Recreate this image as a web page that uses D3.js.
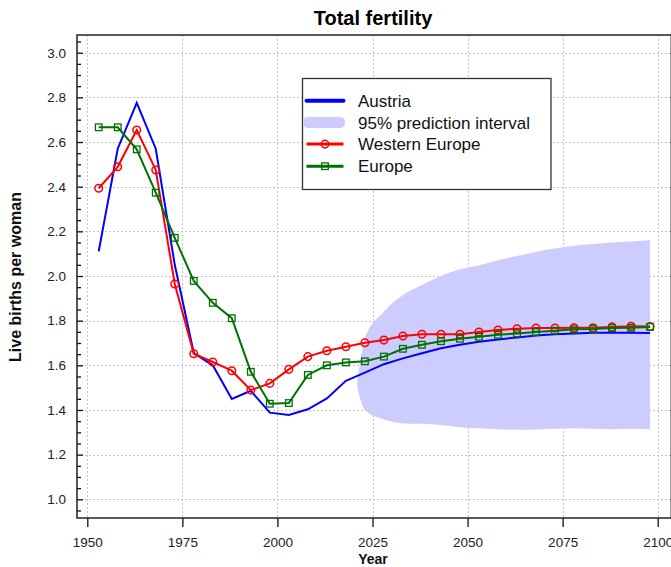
<!DOCTYPE html>
<html>
<head>
<meta charset="utf-8">
<script src="https://cdn.jsdelivr.net/npm/d3@7"></script>
<style>
  html, body { margin: 0; padding: 0; background: #fff; }
  svg { display: block; font-family: "Liberation Sans", Arial, Helvetica, sans-serif; }
</style>
</head>
<body>
<svg id="chart" width="671" height="567"></svg>
<script>
// ---- data ----
const years = [1953, 1958, 1963, 1968, 1973, 1978, 1983, 1988, 1993, 1998,
               2003, 2008, 2013, 2018, 2023, 2028, 2033, 2038, 2043, 2048,
               2053, 2058, 2063, 2068, 2073, 2078, 2083, 2088, 2093, 2098];
const austria = [2.11, 2.57, 2.775, 2.57, 2.05, 1.655, 1.60, 1.449, 1.486, 1.388,
                 1.378, 1.403, 1.452, 1.531, 1.567, 1.605, 1.631, 1.654, 1.676, 1.692,
                 1.706, 1.716, 1.725, 1.733, 1.739, 1.743, 1.746, 1.746, 1.746, 1.745];
const westernEurope = [2.393, 2.489, 2.654, 2.475, 1.964, 1.652, 1.615, 1.576, 1.489, 1.519,
                       1.582, 1.639, 1.665, 1.683, 1.701, 1.713, 1.731, 1.739, 1.739, 1.739,
                       1.749, 1.758, 1.764, 1.767, 1.767, 1.768, 1.768, 1.772, 1.775, 1.774];
const europe = [2.666, 2.666, 2.567, 2.373, 2.171, 1.978, 1.880, 1.811, 1.571, 1.428,
                1.431, 1.557, 1.600, 1.613, 1.618, 1.639, 1.674, 1.692, 1.708, 1.719,
                1.728, 1.737, 1.743, 1.749, 1.755, 1.761, 1.763, 1.767, 1.768, 1.772];
const bandYears = [2021, 2023, 2028, 2033, 2038, 2043, 2048, 2053, 2058, 2063,
                   2068, 2073, 2078, 2083, 2088, 2093, 2098];
const bandUpper = [1.53, 1.72, 1.84, 1.915, 1.96, 2.00, 2.03, 2.047, 2.07, 2.09,
                   2.108, 2.123, 2.136, 2.143, 2.15, 2.155, 2.16];
const bandLower = [1.50, 1.40, 1.358, 1.34, 1.338, 1.333, 1.323, 1.318, 1.314, 1.312,
                   1.313, 1.316, 1.318, 1.316, 1.314, 1.316, 1.314];
const xTicks = [1950, 1975, 2000, 2025, 2050, 2075, 2100];
const yTicks = [1.0, 1.2, 1.4, 1.6, 1.8, 2.0, 2.2, 2.4, 2.6, 2.8, 3.0];
const legendLabels = ["Austria", "95% prediction interval", "Western Europe", "Europe"];
const titleText = "Total fertility";
const xLabel = "Year";
const yLabel = "Live births per woman";

// ---- layout ----
const svg = d3.select("#chart");
const frame = { left: 77, right: 671.3, top: 35, bottom: 518 };
const x = d3.scaleLinear().domain([1950, 2100]).range([87.3, 657.7]);
const y = d3.scaleLinear().domain([1.0, 3.0]).range([499.3, 52.7]);

const colAustria = "#0000ff", colWest = "#ff0000", colEurope = "#007000", colBand = "#ccccff";

// grid
const grid = svg.append("g").attr("stroke", "#c4c4c4").attr("stroke-width", 1)
  .attr("stroke-dasharray", "2,2");
grid.selectAll("line.v").data(xTicks).join("line")
  .attr("x1", d => Math.round(x(d)) + 0.5).attr("x2", d => Math.round(x(d)) + 0.5)
  .attr("y1", frame.top).attr("y2", frame.bottom);
grid.selectAll("line.h").data(yTicks).join("line")
  .attr("y1", d => Math.round(y(d)) + 0.5).attr("y2", d => Math.round(y(d)) + 0.5)
  .attr("x1", frame.left).attr("x2", frame.right);

// prediction band
const bandData = bandYears.map((yr, i) => ({ yr, lo: bandLower[i], hi: bandUpper[i] }));
svg.append("path").datum(bandData)
  .attr("fill", colBand)
  .attr("d", d3.area().curve(d3.curveMonotoneX)
    .x(d => x(d.yr)).y0(d => y(d.lo)).y1(d => y(d.hi)));

// lines
const line = d3.line().x(d => x(d[0])).y(d => y(d[1]));
function series(vals) { return years.map((yr, i) => [yr, vals[i]]); }

svg.append("path").datum(series(austria)).attr("fill", "none")
  .attr("stroke", colAustria).attr("stroke-width", 2).attr("d", line);

svg.append("path").datum(series(westernEurope)).attr("fill", "none")
  .attr("stroke", colWest).attr("stroke-width", 2).attr("d", line);
svg.append("g").selectAll("circle").data(series(westernEurope)).join("circle")
  .attr("cx", d => x(d[0])).attr("cy", d => y(d[1])).attr("r", 3.8)
  .attr("fill", "none").attr("stroke", colWest).attr("stroke-width", 1.5);

svg.append("path").datum(series(europe)).attr("fill", "none")
  .attr("stroke", colEurope).attr("stroke-width", 2).attr("d", line);
svg.append("g").selectAll("rect").data(series(europe)).join("rect")
  .attr("x", d => x(d[0]) - 3.3).attr("y", d => y(d[1]) - 3.3)
  .attr("width", 6.6).attr("height", 6.6)
  .attr("fill", "none").attr("stroke", colEurope).attr("stroke-width", 1.3);

// axes
const xAxis = svg.append("g").attr("transform", `translate(0,${frame.bottom})`)
  .call(d3.axisBottom(x).tickValues(xTicks).tickSize(9).tickPadding(10).tickFormat(d3.format("d")));
const yAxis = svg.append("g").attr("transform", `translate(${frame.left},0)`)
  .call(d3.axisLeft(y).tickValues(yTicks).tickSize(-6).tickPadding(11).tickFormat(d3.format(".1f")));
const minor = d3.range(0, 44).map(i => +(0.95 + i * 0.05).toFixed(2))
  .filter(v => v > 0.92 && v < 3.08 && Math.abs(v * 5 - Math.round(v * 5)) > 1e-6);
svg.append("g").attr("transform", `translate(${frame.left},0)`)
  .call(d3.axisLeft(y).tickValues(minor).tickSize(-4).tickFormat(""))
  .select(".domain").remove();
[xAxis, yAxis].forEach(g => {
  g.select(".domain").remove();
  g.selectAll(".tick text").attr("fill", "#222").attr("font-size", 13.5)
    .attr("font-family", "'Liberation Sans', Arial, sans-serif");
});
svg.selectAll(".tick line").attr("stroke", "#111").attr("stroke-width", 1.3);

// frame
svg.append("rect").attr("x", frame.left).attr("y", frame.top)
  .attr("width", frame.right - frame.left).attr("height", frame.bottom - frame.top)
  .attr("fill", "none").attr("stroke", "#222").attr("stroke-width", 1.5);

// titles
svg.append("text").attr("x", 373).attr("y", 25).attr("text-anchor", "middle")
  .attr("font-size", 20).attr("font-weight", "bold").attr("fill", "#000").text(titleText);
svg.append("text").attr("x", 373).attr("y", 564).attr("text-anchor", "middle")
  .attr("font-size", 14).attr("font-weight", "bold").attr("fill", "#111").text(xLabel);
svg.append("text").attr("transform", "translate(21,277) rotate(-90)").attr("text-anchor", "middle")
  .attr("font-size", 16).attr("font-weight", "bold").attr("fill", "#111").text(yLabel);

// legend
const lg = svg.append("g");
lg.append("rect").attr("x", 302.5).attr("y", 78.5).attr("width", 248.5).attr("height", 111)
  .attr("fill", "#fff").attr("stroke", "#333").attr("stroke-width", 1.3);
const rowY = [100.7, 122.4, 144.1, 166.2];
const lx0 = 306.5, lx1 = 343.5, lmid = 325;
lg.append("line").attr("x1", lx0).attr("x2", lx1).attr("y1", rowY[0]).attr("y2", rowY[0])
  .attr("stroke", colAustria).attr("stroke-width", 4).attr("stroke-linecap", "round");
lg.append("rect").attr("x", 303).attr("y", rowY[1] - 5.5).attr("width", 42).attr("height", 11)
  .attr("rx", 5).attr("fill", colBand);
lg.append("line").attr("x1", lx0).attr("x2", lx1).attr("y1", rowY[2]).attr("y2", rowY[2])
  .attr("stroke", colWest).attr("stroke-width", 3);
lg.append("circle").attr("cx", lmid).attr("cy", rowY[2]).attr("r", 3.8)
  .attr("fill", "none").attr("stroke", colWest).attr("stroke-width", 1.5);
lg.append("line").attr("x1", lx0).attr("x2", lx1).attr("y1", rowY[3]).attr("y2", rowY[3])
  .attr("stroke", colEurope).attr("stroke-width", 3);
lg.append("rect").attr("x", lmid - 3.3).attr("y", rowY[3] - 3.3).attr("width", 6.6).attr("height", 6.6)
  .attr("fill", "none").attr("stroke", colEurope).attr("stroke-width", 1.3);
lg.selectAll("text.leg").data(legendLabels).join("text")
  .attr("x", 358).attr("y", (d, i) => rowY[i]).attr("dy", "0.36em")
  .attr("font-size", 17).attr("fill", "#111").text(d => d);
</script>
</body>
</html>
